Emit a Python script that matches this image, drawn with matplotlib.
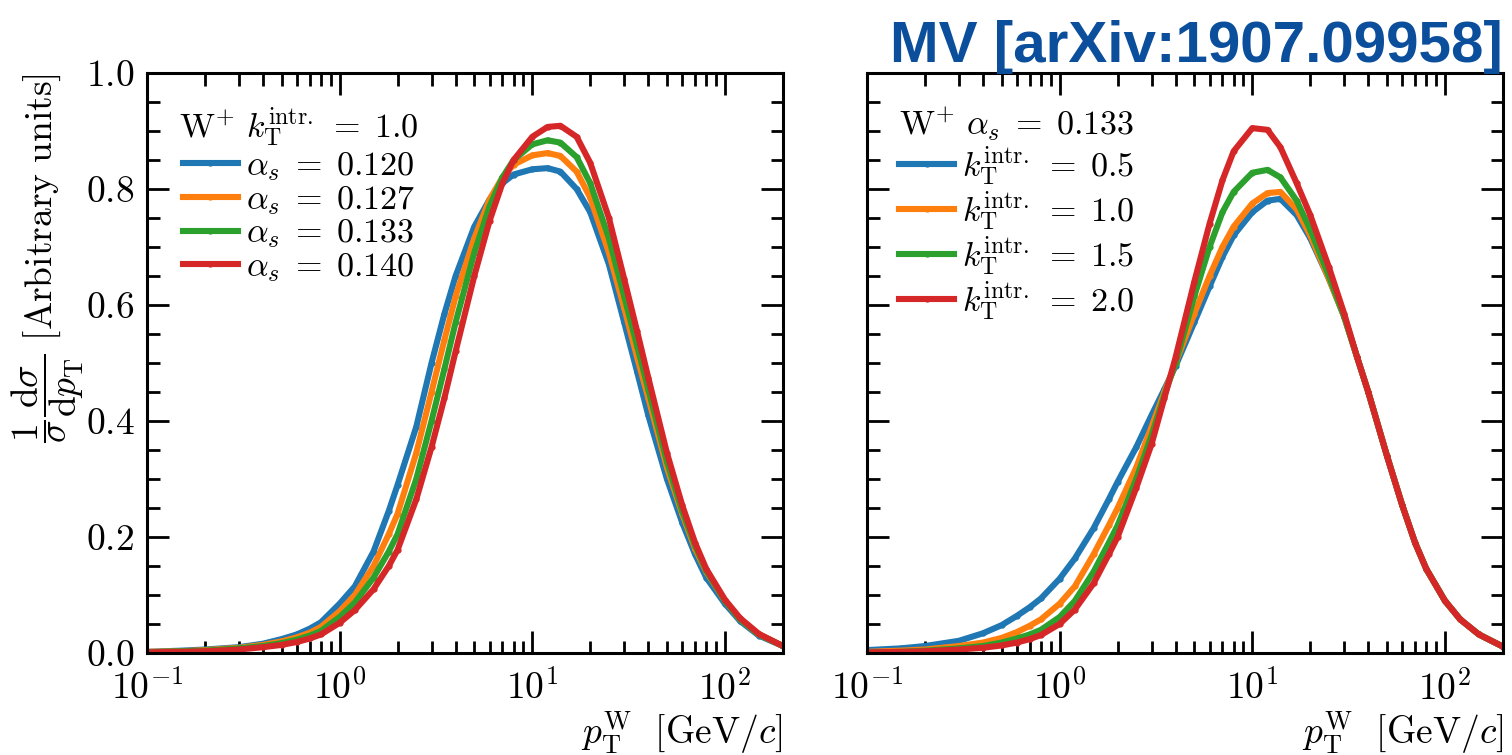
import math
import matplotlib
matplotlib.use('Agg')
import matplotlib.pyplot as plt
from matplotlib.ticker import FuncFormatter, LogLocator, MultipleLocator, NullFormatter

plt.rcParams['mathtext.fontset'] = 'cm'
plt.rcParams['font.family'] = 'serif'
plt.rcParams['font.serif'] = ['cmr10', 'DejaVu Serif']
plt.rcParams['axes.formatter.use_mathtext'] = True

# pT grid [GeV/c] shared by all curves
pt = [0.1, 0.15, 0.2, 0.3, 0.4, 0.5, 0.6, 0.7, 0.8, 1.0, 1.2, 1.5, 1.8, 2.0, 2.5,
      3.0, 3.5, 4.0, 5.0, 6.0, 7.0, 8.0, 10, 12, 14, 17, 20, 25, 30, 35, 40, 50,
      60, 70, 80, 100, 120, 150, 200]

# left panel: kT intr = 1.0, varying alpha_s
alphas_labels = ['0.120', '0.127', '0.133', '0.140']
left_a120 = [0.002, 0.004, 0.006, 0.010, 0.016, 0.024, 0.032, 0.042, 0.053, 0.085, 0.115,
             0.175, 0.245, 0.29, 0.39, 0.50, 0.585, 0.65, 0.735, 0.782, 0.81, 0.825, 0.834,
             0.836, 0.83, 0.80, 0.76, 0.67, 0.57, 0.485, 0.41, 0.30, 0.225, 0.17, 0.13,
             0.085, 0.055, 0.03, 0.012]
left_a127 = [0.002, 0.003, 0.005, 0.009, 0.014, 0.020, 0.027, 0.035, 0.045, 0.072, 0.10,
             0.15, 0.205, 0.24, 0.345, 0.45, 0.54, 0.615, 0.715, 0.782, 0.82, 0.842, 0.858,
             0.862, 0.857, 0.83, 0.785, 0.69, 0.595, 0.51, 0.44, 0.32, 0.24, 0.18, 0.14,
             0.09, 0.058, 0.032, 0.012]
left_a133 = [0.001, 0.003, 0.004, 0.008, 0.012, 0.017, 0.023, 0.030, 0.038, 0.062, 0.087,
             0.13, 0.175, 0.205, 0.30, 0.40, 0.49, 0.57, 0.69, 0.77, 0.82, 0.85, 0.877,
             0.884, 0.88, 0.855, 0.81, 0.715, 0.615, 0.53, 0.455, 0.33, 0.245, 0.185, 0.142,
             0.09, 0.058, 0.032, 0.012]
left_a140 = [0.001, 0.002, 0.003, 0.006, 0.010, 0.014, 0.019, 0.025, 0.032, 0.052, 0.074,
             0.11, 0.15, 0.178, 0.265, 0.355, 0.44, 0.52, 0.65, 0.745, 0.81, 0.85, 0.89,
             0.907, 0.909, 0.89, 0.845, 0.75, 0.645, 0.555, 0.475, 0.345, 0.255, 0.19, 0.145,
             0.092, 0.06, 0.033, 0.012]

# right panel: alpha_s = 0.133, varying kT intr
kt_labels = ['0.5', '1.0', '1.5', '2.0']
right_k05 = [0.005, 0.008, 0.012, 0.021, 0.034, 0.048, 0.064, 0.079, 0.094, 0.128, 0.163,
             0.215, 0.265, 0.295, 0.355, 0.41, 0.455, 0.495, 0.57, 0.632, 0.683, 0.72, 0.76,
             0.78, 0.783, 0.755, 0.715, 0.645, 0.58, 0.51, 0.45, 0.34, 0.255, 0.19, 0.145,
             0.09, 0.058, 0.032, 0.011]
right_k10 = [0.002, 0.004, 0.006, 0.012, 0.018, 0.026, 0.036, 0.047, 0.058, 0.085, 0.115,
             0.17, 0.22, 0.25, 0.32, 0.39, 0.45, 0.50, 0.585, 0.65, 0.70, 0.735, 0.775,
             0.793, 0.795, 0.765, 0.72, 0.645, 0.58, 0.51, 0.45, 0.34, 0.255, 0.19, 0.145,
             0.09, 0.058, 0.032, 0.011]
right_k15 = [0.001, 0.002, 0.004, 0.008, 0.012, 0.018, 0.025, 0.032, 0.040, 0.062, 0.09,
             0.14, 0.19, 0.22, 0.30, 0.375, 0.445, 0.50, 0.615, 0.70, 0.76, 0.795, 0.828,
             0.833, 0.82, 0.78, 0.73, 0.65, 0.58, 0.51, 0.45, 0.34, 0.255, 0.19, 0.145,
             0.09, 0.058, 0.032, 0.011]
right_k20 = [0.001, 0.002, 0.003, 0.006, 0.009, 0.013, 0.018, 0.024, 0.031, 0.050, 0.075,
             0.12, 0.17, 0.20, 0.285, 0.36, 0.44, 0.51, 0.64, 0.74, 0.815, 0.865, 0.905,
             0.902, 0.872, 0.81, 0.755, 0.665, 0.585, 0.51, 0.45, 0.34, 0.255, 0.19, 0.145,
             0.09, 0.058, 0.032, 0.011]

colors = ['#1f77b4', '#ff7f0e', '#2ca02c', '#d62728']

fig = plt.figure(figsize=(15.12, 7.55), dpi=100)
ax1 = fig.add_axes([0.0972, 0.1351, 0.4206, 0.7682])
ax2 = fig.add_axes([0.5734, 0.1351, 0.4206, 0.7682])

left_series = [left_a120, left_a127, left_a133, left_a140]
right_series = [right_k05, right_k10, right_k15, right_k20]

for ys, lab, c in zip(left_series, alphas_labels, colors):
    ax1.plot(pt, ys, color=c, lw=4.4, marker='o', ms=3.5,
             label=r'$\alpha_s\;=\;%s$' % lab)
for ys, lab, c in zip(right_series, kt_labels, colors):
    ax2.plot(pt, ys, color=c, lw=4.4, marker='o', ms=3.5,
             label=r'$k_\mathrm{T}^\mathrm{intr.}\;=\;%s$' % lab)

fs = 27
lfs = 24.5
for ax in (ax1, ax2):
    ax.set_xscale('log')
    ax.set_xlim(0.1, 200)
    ax.set_ylim(0, 1.0)
    ax.xaxis.set_major_locator(LogLocator(base=10, numticks=10))
    ax.xaxis.set_minor_locator(LogLocator(base=10, subs=range(2, 10), numticks=20))
    ax.xaxis.set_minor_formatter(NullFormatter())
    ax.xaxis.set_major_formatter(FuncFormatter(
        lambda v, p: r'$10^{%d}$' % round(math.log10(v))))
    ax.yaxis.set_major_locator(MultipleLocator(0.2))
    ax.yaxis.set_minor_locator(MultipleLocator(0.05))
    ax.yaxis.set_major_formatter(FuncFormatter(lambda v, p: r'$%.1f$' % v))
    ax.tick_params(which='both', direction='in', top=True, right=True,
                   labelsize=fs, width=2)
    ax.tick_params(which='major', length=16, pad=9)
    ax.tick_params(which='minor', length=9)
    ax.tick_params(axis='x', which='major', pad=12)
    for s in ax.spines.values():
        s.set_linewidth(2.2)
    ax.set_xlabel(r'$p_\mathrm{T}^\mathrm{W}\ \ [\mathrm{GeV}/c]$', fontsize=fs,
                  loc='right', labelpad=2)

ax2.tick_params(axis='y', labelleft=False)
ax1.set_ylabel(r'$\dfrac{1}{\sigma}\dfrac{\mathrm{d}\sigma}{\mathrm{d}p_\mathrm{T}}\ [\mathrm{Arbitrary\ units}]$',
               fontsize=fs, loc='top', labelpad=0)

leg_kw = dict(loc='upper left', frameon=False, fontsize=lfs, title_fontsize=lfs,
              handlelength=1.6, handletextpad=0.25, borderaxespad=0.55)
ax1.legend(title=r'$\mathrm{W}^{+}\ k_\mathrm{T}^\mathrm{intr.}\;=\;1.0$',
           labelspacing=0.03, **leg_kw)
ax2.legend(title=r'$\mathrm{W}^{+}\ \alpha_s\;=\;0.133$',
           labelspacing=0.04, **leg_kw)

fig.text(0.994, 1 - 62 / 755, 'MV [arXiv:1907.09958]', ha='right', va='baseline',
         fontsize=42, fontweight='bold', color='#0b4f9c', family='Liberation Sans')

fig.savefig('out.png', dpi=100)
